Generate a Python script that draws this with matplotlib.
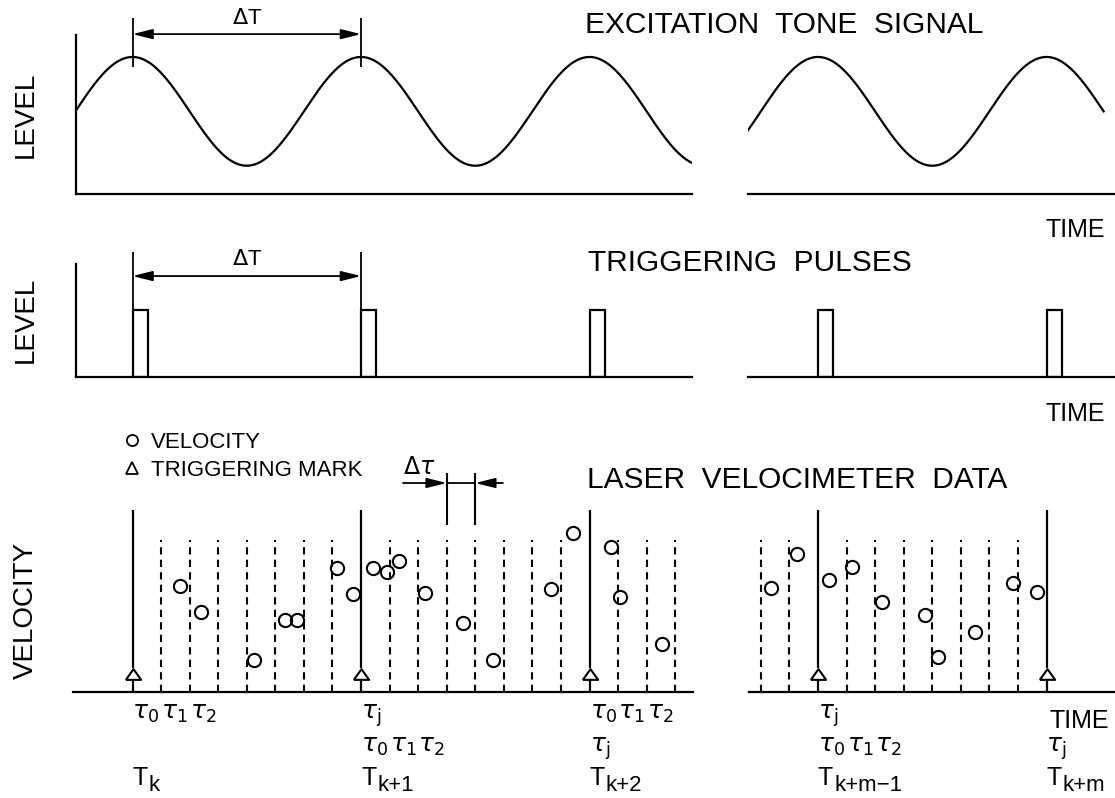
import numpy as np
import matplotlib.pyplot as plt
from matplotlib.lines import Line2D

plt.rcParams['font.family'] = ['Liberation Sans', 'DejaVu Sans']
plt.rcParams['mathtext.fontset'] = 'dejavusans'

# ---- data (time in units of one excitation period, dT) ----
tone_period = 1.0
tone_amp = 1.0
tone_left = [-0.247, 2.449]      # visible span, left part (from T_k)
tone_right = [-0.306, 1.25]      # visible span, right part (from T_k+m-1)

trig_left = [0, 1, 2]            # T_k, T_k+1, T_k+2
trig_right = [0, 1]              # T_k+m-1, T_k+m
trig_sub_left = ['k', 'k+1', 'k+2']
trig_sub_right = ['k+m\u22121', 'k+m']
pulse_width = 0.066
pulse_level = 1.0

n_bins = 8                       # dtau = dT / 8
bins_left = [1, 2, 3, 4, 5, 6, 7, 9, 10, 11, 12, 13, 14, 15, 17, 18, 19]
bins_right = [-2, -1, 1, 2, 3, 4, 5, 6, 7]
dtau_bin = [11, 12]              # bin used for the dtau marker

vel_t_left = [0.208, 0.300, 0.532, 0.667, 0.720, 0.895, 0.965, 1.052, 1.114,
              1.166, 1.280, 1.446, 1.578, 1.831, 1.928, 2.094, 2.133, 2.317]
vel_left = [1.06, 0.80, 0.32, 0.72, 0.72, 1.24, 0.98, 1.24, 1.20,
            1.31, 0.99, 0.69, 0.32, 1.03, 1.59, 1.45, 0.95, 0.48]
vel_t_right = [-0.206, -0.092, 0.048, 0.149, 0.280, 0.468, 0.525, 0.687, 0.853, 0.958]
vel_right = [1.04, 1.38, 1.12, 1.25, 0.90, 0.77, 0.35, 0.60, 1.09, 1.00]

# ---- layout (pixels) ----
W, H = 1115, 798
PX_T = 228.5
X0_L, X0_R = 132.5, 818
LW = 1.6

fig = plt.figure(figsize=(W / 100, H / 100), dpi=100)


def make_ax(x0, x1, ytop, ybot, xref, ylim, left_spine):
    ax = fig.add_axes([x0 / W, 1 - ybot / H, (x1 - x0) / W, (ybot - ytop) / H])
    ax.set_xlim((x0 - xref) / PX_T, (x1 - xref) / PX_T)
    ax.set_ylim(*ylim)
    ax.spines['top'].set_visible(False)
    ax.spines['right'].set_visible(False)
    ax.spines['left'].set_visible(left_spine)
    for s in ['left', 'bottom']:
        ax.spines[s].set_linewidth(LW)
    ax.set_xticks([])
    ax.set_yticks([])
    ax.patch.set_alpha(0)
    return ax


def ftext(x, y, s, **kw):
    fig.text(x / W, 1 - y / H, s, **kw)


def dim_arrow(ax, t0, t1, y):
    ax.annotate('', xy=(t1, y), xytext=(t0, y), annotation_clip=False,
                arrowprops=dict(arrowstyle='<|-|>,head_length=0.6,head_width=0.15',
                                lw=1.3, color='k', shrinkA=0, shrinkB=0,
                                mutation_scale=20))


# top row: excitation tone
top_ylim = (-1.52, 1.404)
axT = make_ax(76, 692, 35, 194, X0_L, top_ylim, True)
axT2 = make_ax(748, W, 35, 194, X0_R, top_ylim, False)
for ax, span in [(axT, tone_left), (axT2, tone_right)]:
    t = np.linspace(span[0], span[1], 500)
    ax.plot(t, tone_amp * np.cos(2 * np.pi * t / tone_period), color='k', lw=LW)
axT.vlines([trig_left[0], trig_left[1]], 0.82, 1.72, color='k', lw=1.3, clip_on=False)
dim_arrow(axT, trig_left[0], trig_left[1], 1.42)
axT.text(0.5, 1.70, r'$\Delta$T', ha='center', va='center', fontsize=16)

# middle row: triggering pulses
mid_ylim = (0, 1.687)
axM = make_ax(76, 692, 264, 377, X0_L, mid_ylim, True)
axM2 = make_ax(748, W, 264, 377, X0_R, mid_ylim, False)
for ax, trig in [(axM, trig_left), (axM2, trig_right)]:
    ax.bar(trig, pulse_level, width=pulse_width, align='edge', fill=False,
           edgecolor='k', lw=LW)
axM.vlines([trig_left[0], trig_left[1]], 0, 1.868, color='k', lw=1.3, clip_on=False)
dim_arrow(axM, trig_left[0], trig_left[1], 1.507)
axM.text(0.5, 1.76, r'$\Delta$T', ha='center', va='center', fontsize=16)

# bottom row: laser velocimeter data
bot_ylim = (0, 1.82)
axB = make_ax(73, 693, 510, 692, X0_L, bot_ylim, False)
axB2 = make_ax(749, W, 510, 692, X0_R, bot_ylim, False)
tri = [(-1, -0.7), (1, -0.7), (0, 0.7), (-1, -0.7)]
for ax, trig, bins, vt, vv in [(axB, trig_left, bins_left, vel_t_left, vel_left),
                               (axB2, trig_right, bins_right, vel_t_right, vel_right)]:
    ax.vlines(np.array(bins) / n_bins, 0, 1.52, color='k', lw=1.5,
              linestyles=(0, (3.5, 2.5)))
    ax.vlines(trig, 0.24, 1.82, color='k', lw=1.6, clip_on=False)
    ax.vlines(trig, 0, 0.13, color='k', lw=1.6)
    ax.plot(trig, [0.185] * len(trig), ls='', marker=tri, ms=11, mfc='white',
            mec='k', mew=1.5, clip_on=False)
    ax.plot(vt, vv, ls='', marker='o', ms=9.5, mfc='none', mec='k', mew=1.5,
            clip_on=False)

# dtau marker
ta, tb = dtau_bin[0] / n_bins, dtau_bin[1] / n_bins
axB.vlines([ta, tb], 1.67, 2.19, color='k', lw=1.5, clip_on=False)
axB.plot([ta, tb], [2.09, 2.09], color='k', lw=1.3, clip_on=False)
for t0, t1 in [(1.184, ta), (1.621, tb)]:
    axB.annotate('', xy=(t1, 2.09), xytext=(t0, 2.09), annotation_clip=False,
                 arrowprops=dict(arrowstyle='-|>,head_length=0.6,head_width=0.15',
                                 lw=1.3, color='k', shrinkA=0, shrinkB=0,
                                 mutation_scale=20))
axB.text(1.184, 2.24, r'$\Delta\tau$', ha='left', va='center', fontsize=17)

# legend
handles = [Line2D([], [], ls='', marker='o', ms=8, mfc='none', mec='k', mew=1.3),
           Line2D([], [], ls='', marker='^', ms=8, mfc='none', mec='k', mew=1.3)]
axB.legend(handles, ['VELOCITY', 'TRIGGERING MARK'], loc='upper left',
           bbox_to_anchor=(123 / W, 1 - 432 / H), bbox_transform=fig.transFigure,
           frameon=False, fontsize=16, handlelength=0.8, handletextpad=0.45,
           labelspacing=0.3, borderpad=0, borderaxespad=0)

# labels under the time axis
ROW_Y = [27, 60, 93]


def lab(ax, t, s, row, size=18):
    ax.annotate(s, xy=(t, 0), xycoords='data', xytext=(0, -ROW_Y[row]),
                textcoords='offset pixels', ha='left', va='baseline',
                fontsize=size, annotation_clip=False)


def taus(ax, t0, row):
    for i in range(3):
        lab(ax, t0 + i / n_bins, r'$\tau_%d$' % i, row)


def tlabel(ax, t, sub):
    lab(ax, t, 'T', 2, size=18)
    ax.annotate(sub, xy=(t, 0), xycoords='data', xytext=(16, -ROW_Y[2] - 6),
                textcoords='offset pixels', ha='left', va='baseline',
                fontsize=16, annotation_clip=False)


taus(axB, trig_left[0], 0)
tlabel(axB, trig_left[0], trig_sub_left[0])
lab(axB, trig_left[1], r'$\tau_\mathrm{j}$', 0)
taus(axB, trig_left[1], 1)
tlabel(axB, trig_left[1], trig_sub_left[1])
taus(axB, trig_left[2], 0)
lab(axB, trig_left[2], r'$\tau_\mathrm{j}$', 1)
tlabel(axB, trig_left[2], trig_sub_left[2])
lab(axB2, trig_right[0], r'$\tau_\mathrm{j}$', 0)
taus(axB2, trig_right[0], 1)
tlabel(axB2, trig_right[0], trig_sub_right[0])
lab(axB2, trig_right[1], r'$\tau_\mathrm{j}$', 1)
tlabel(axB2, trig_right[1], trig_sub_right[1])

# titles and axis words
ftext(585, 25, 'EXCITATION  TONE  SIGNAL', fontsize=21.5, va='center')
ftext(588, 263, 'TRIGGERING  PULSES', fontsize=21.5, va='center')
ftext(587, 480, 'LASER  VELOCIMETER  DATA', fontsize=21.5, va='center')
ftext(1045, 230, 'TIME', fontsize=18, va='center')
ftext(1045, 414, 'TIME', fontsize=18, va='center')
ftext(1050, 721, 'TIME', fontsize=18, va='center')
ftext(26, 115, 'LEVEL', fontsize=20, rotation=90, ha='center', va='center')
ftext(26, 320, 'LEVEL', fontsize=20, rotation=90, ha='center', va='center')
ftext(26, 610, 'VELOCITY', fontsize=20, rotation=90, ha='center', va='center')

fig.savefig('out.png', dpi=100)
